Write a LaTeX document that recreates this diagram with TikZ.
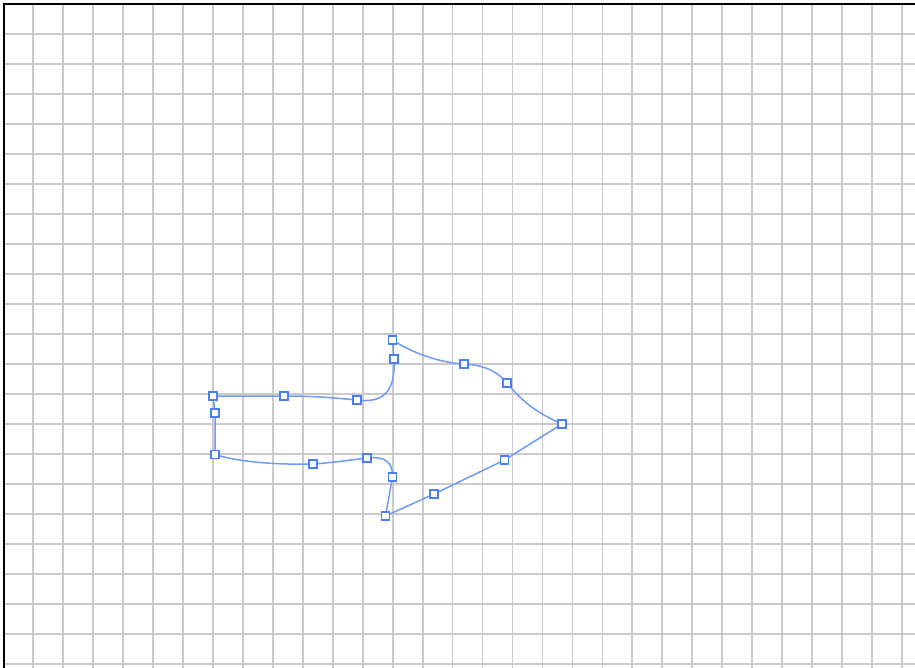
\documentclass[tikz,border=0pt]{standalone}
\definecolor{gridc}{RGB}{202,202,202}
\definecolor{curvec}{RGB}{110,155,250}
\definecolor{markc}{RGB}{75,125,245}
\tikzset{
  gridline/.style={draw=gridc, line width=1.7pt},
  frameline/.style={draw=black, line width=2pt},
  shapeline/.style={draw=curvec, line width=1.5pt, line join=round},
  anchorbox/.style={draw=markc, fill=white, line width=1.5pt, minimum size=8pt, inner sep=0pt, rectangle}
}
\begin{document}
\begin{tikzpicture}[x=1pt,y=-1pt]
\useasboundingbox (0,0) rectangle (915,668);
\fill[white] (0,0) rectangle (915,668);
% grid
\foreach \i in {0,...,29} { \draw[gridline] ({33.3+29.95*\i},4) -- ({33.3+29.95*\i},668); }
\foreach \j in {0,...,21} { \draw[gridline] (3,{34.3+30*\j}) -- (915,{34.3+30*\j}); }
% frame (top and left)
\draw[frameline] (3.5,668) -- (3.5,4.5) -- (915,4.5);
% anchor coordinates
\coordinate (a1) at (213,396);
\coordinate (a2) at (284,396);
\coordinate (a3) at (357,400);
\coordinate (a4) at (394,359);
\coordinate (a5) at (392.5,340);
\coordinate (a6) at (464,364);
\coordinate (a7) at (507,383);
\coordinate (a8) at (562,424);
\coordinate (a9) at (504.5,460);
\coordinate (a10) at (434,494);
\coordinate (a11) at (385.5,516);
\coordinate (a12) at (392.5,477);
\coordinate (a13) at (367,458);
\coordinate (a14) at (313,464);
\coordinate (a15) at (215,454.5);
\coordinate (a16) at (215,413);
% outline
\draw[shapeline] (a1) -- (a2)
  .. controls (315,396) and (335,398) .. (a3)
  .. controls (380,403) and (396,395) .. (a4)
  -- (a5)
  .. controls (410,352) and (440,363) .. (a6)
  .. controls (485,365) and (498,372) .. (a7)
  .. controls (525,405) and (540,414) .. (a8)
  -- (a9) -- (a10) -- (a11) -- (a12)
  .. controls (393,462) and (385,456) .. (a13)
  .. controls (350,460) and (330,463) .. (a14)
  .. controls (270,465) and (235,461) .. (a15)
  -- (a16) -- cycle;
% anchor markers
\foreach \p in {a1,a2,a3,a4,a5,a6,a7,a8,a9,a10,a11,a12,a13,a14,a15,a16}
  { \node[anchorbox] (m\p) at (\p) {}; }
\end{tikzpicture}
\end{document}
